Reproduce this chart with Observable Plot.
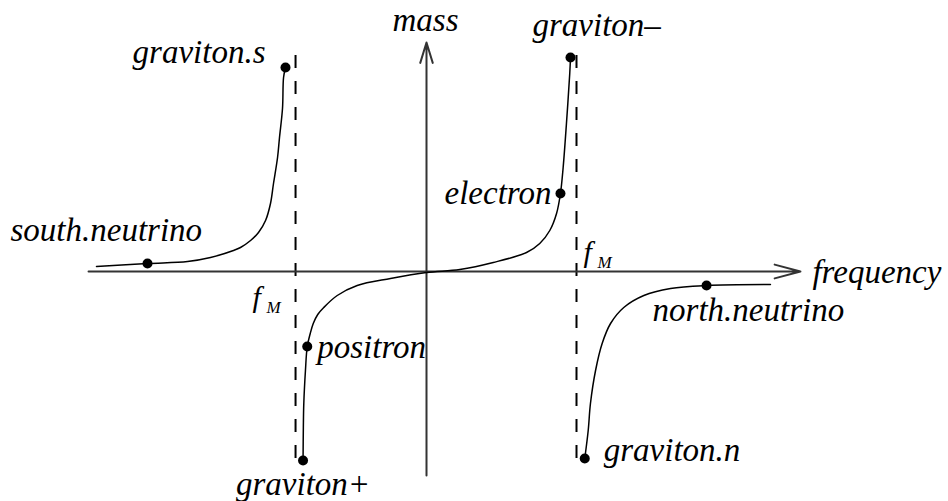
<!DOCTYPE html>
<html>
<head>
<meta charset="utf-8">
<script src="https://cdn.jsdelivr.net/npm/d3@7"></script>
<script src="https://cdn.jsdelivr.net/npm/@observablehq/plot@0.6"></script>
<style>
  html, body { margin: 0; padding: 0; background: #fff; }
  #chart svg { display: block; background: #fff; }
  #chart svg text { font-family: "Liberation Serif", "Times New Roman", serif !important; font-style: italic; }
</style>
</head>
<body>
<div id="chart"></div>
<script>
// ---- data (frequency in units of right f_M, mass in arbitrary units) ----
const fMLeft = -0.873;
const fMRight = 1.0;

// left branch: south.neutrino -> graviton.s
const southF = [-2.20, -1.86, -1.593, -1.44, -1.287, -1.24, -1.173, -1.12, -1.073, -1.04, -1.02, -0.993, -0.98, -0.96, -0.953, -0.94];
const southM = [0.05, 0.08, 0.10, 0.14, 0.21, 0.24, 0.31, 0.39, 0.51, 0.68, 0.88, 1.14, 1.34, 1.63, 1.94, 2.04];

// middle branch: graviton+ -> positron -> origin -> electron -> graviton−
const midF = [-0.823, -0.821, -0.818, -0.807, -0.795, -0.775, -0.755, -0.725, -0.685, -0.595, -0.462, -0.24, 0, 0.222, 0.445, 0.667, 0.755, 0.822, 0.867, 0.893, 0.911, 0.933, 0.955, 0.96];
const midM = [-1.89, -1.56, -1.32, -0.99, -0.75, -0.62, -0.52, -0.43, -0.36, -0.24, -0.14, -0.07, -0.01, 0.02, 0.09, 0.19, 0.28, 0.41, 0.58, 0.78, 1.04, 1.48, 1.98, 2.14];

// right branch: graviton.n -> north.neutrino
const northF = [1.055, 1.078, 1.093, 1.127, 1.171, 1.227, 1.315, 1.449, 1.627, 1.867, 2.293];
const northM = [-1.87, -1.59, -1.32, -0.99, -0.72, -0.52, -0.36, -0.24, -0.17, -0.14, -0.13];

// particles (marked points)
const particleNames = ["south.neutrino", "graviton.s", "graviton+", "positron", "electron", "graviton\u2013", "graviton.n", "north.neutrino"];
const particleF = [-1.86, -0.94, -0.823, -0.795, 0.893, 0.96, 1.055, 1.867];
const particleM = [0.08, 2.04, -1.89, -0.75, 0.78, 2.14, -1.87, -0.14];

// axis extents and asymptote extent
const freqAxis = [-2.253, 2.493];
const massAxis = [-2.04, 2.29];
const asymptoteMass = [2.16, -1.99];

// ---- build tables ----
const toRows = (F, M, branch) => F.map((f, i) => ({f, m: M[i], branch}));
const curve = [
  ...toRows(southF, southM, "south"),
  ...toRows(midF, midM, "mid"),
  ...toRows(northF, northM, "north")
];
const particles = particleNames.map((name, i) => ({name, f: particleF[i], m: particleM[i]}));

// label placement (style only)
const labelStyle = {
  "south.neutrino": {anchor: "start", dx: -137, dy: -23},
  "graviton.s": {anchor: "end", dx: -20, dy: -5},
  "graviton+": {anchor: "middle", dx: 0, dy: 34},
  "positron": {anchor: "start", dx: 10, dy: 11},
  "electron": {anchor: "end", dx: -9, dy: 10},
  "graviton\u2013": {anchor: "start", dx: -38, dy: -22},
  "graviton.n": {anchor: "start", dx: 19, dy: 2},
  "north.neutrino": {anchor: "start", dx: -54, dy: 35}
};

const font = {fontFamily: "Liberation Serif", fontStyle: "italic", fill: "black"};

const labelMarks = particles.map(p => {
  const s = labelStyle[p.name];
  return Plot.text([p], {x: "f", y: "m", text: "name", textAnchor: s.anchor, lineAnchor: "bottom",
    dx: s.dx, dy: s.dy, fontSize: 33, ...font});
});

const chart = Plot.plot({
  width: 948,
  height: 501,
  margin: 0,
  x: {domain: [-2.84, 3.48], axis: null},
  y: {domain: [-2.30, 2.71], axis: null},
  marks: [
    // asymptotes at ±f_M
    Plot.ruleX([fMLeft, fMRight], {y1: asymptoteMass[0], y2: asymptoteMass[1], stroke: "black", strokeWidth: 2, strokeDasharray: "13,13"}),
    // axes with arrows
    Plot.arrow([{x1: freqAxis[0], x2: freqAxis[1], y: 0}], {x1: "x1", x2: "x2", y1: "y", y2: "y", stroke: "#333", strokeWidth: 2, headLength: 20, headAngle: 30}),
    Plot.arrow([{y1: massAxis[0], y2: massAxis[1], x: 0}], {x1: "x", x2: "x", y1: "y1", y2: "y2", stroke: "#333", strokeWidth: 2, headLength: 16, headAngle: 34}),
    // curve branches
    Plot.line(curve, {x: "f", y: "m", z: "branch", curve: "catmull-rom", stroke: "black", strokeWidth: 1.5}),
    // particle points
    Plot.dot(particles, {x: "f", y: "m", r: 5, fill: "black"}),
    ...labelMarks,
    // axis titles
    Plot.text([{x: 0, y: massAxis[1]}], {x: "x", y: "y", text: () => "mass", textAnchor: "middle", lineAnchor: "bottom", dx: -1, dy: -12, fontSize: 33, ...font}),
    Plot.text([{x: freqAxis[1], y: 0}], {x: "x", y: "y", text: () => "frequency", textAnchor: "start", lineAnchor: "bottom", dx: 12, dy: 11, fontSize: 33, ...font}),
    // f_M labels
    Plot.text([{x: fMRight, y: 0}], {x: "x", y: "y", text: () => "f", textAnchor: "start", lineAnchor: "bottom", dx: 7, dy: -10, fontSize: 30, ...font}),
    Plot.text([{x: fMRight, y: 0}], {x: "x", y: "y", text: () => "M", textAnchor: "start", lineAnchor: "bottom", dx: 21, dy: -4, fontSize: 17, ...font}),
    Plot.text([{x: fMLeft, y: 0}], {x: "x", y: "y", text: () => "f", textAnchor: "start", lineAnchor: "bottom", dx: -43, dy: 35, fontSize: 30, ...font}),
    Plot.text([{x: fMLeft, y: 0}], {x: "x", y: "y", text: () => "M", textAnchor: "start", lineAnchor: "bottom", dx: -29, dy: 41, fontSize: 17, ...font})
  ]
});

document.getElementById("chart").appendChild(chart);
</script>
</body>
</html>
